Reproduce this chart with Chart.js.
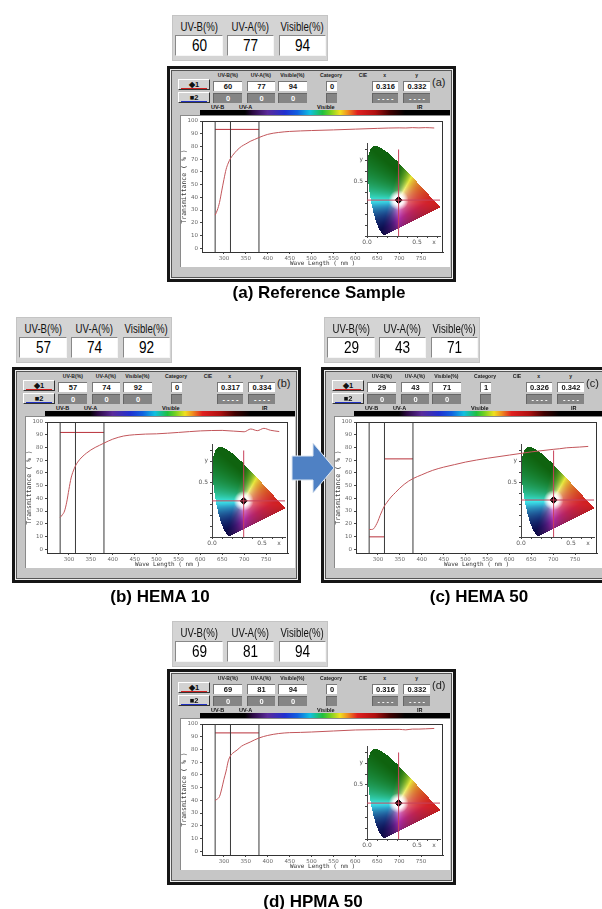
<!DOCTYPE html>
<html>
<head>
<meta charset="utf-8">
<script src="https://cdn.jsdelivr.net/npm/chart.js@4.4.1/dist/chart.umd.min.js"></script>
<style>
  body { margin: 0; background: #fff; }
  #page { position: relative; width: 602px; height: 909px; overflow: hidden; font-family: "Liberation Sans", Arial, sans-serif; }
  .sq { display: inline-block; white-space: nowrap; }
  .hdr { position: absolute; width: 156px; height: 46px; background: #d4d4d4; border: 1px solid #c4c4c4; box-sizing: border-box; }
  .hdr .lab { position: absolute; top: 3px; font-size: 13px; color: #111; text-align: center; }
  .hdr .lab .sq { transform: scaleX(0.74); }
  .hdr .val { position: absolute; top: 19px; height: 21px; background: #fff; box-sizing: border-box;
              border-top: 1px solid #888; border-left: 1px solid #888; border-bottom: 1px solid #f6f6f6; border-right: 1px solid #f6f6f6;
              font-size: 17px; line-height: 19px; text-align: center; color: #000; }
  .hdr .val .sq { transform: scaleX(0.8); }
  .panel { position: absolute; width: 289px; height: 216px; }
  .frame { position: absolute; left: 0; top: 0; width: 289px; height: 216px; background: #c6c6c6; border: 3px solid #151515;
           box-sizing: border-box; box-shadow: inset 0 0 0 1px #eee, inset 0 0 0 2px #555; }
  .colh { position: absolute; top: 5px; font-size: 6px; font-weight: bold; color: #222; text-align: center; line-height: 8px; white-space: nowrap; }
  .colh .sq { transform: scaleX(0.85); }
  .cell { position: absolute; height: 10px; box-sizing: border-box; font-size: 7.5px; font-weight: bold; text-align: center; line-height: 9px; }
  .cell.w { background: #fff; color: #111; border-top: 1px solid #777; border-left: 1px solid #777; }
  .cell.g { background: #858585; color: #fff; border-top: 1px solid #666; border-left: 1px solid #666; }
  .btn { position: absolute; left: 11px; width: 32px; height: 11px; background: #d2d2d2; box-sizing: border-box;
         border-top: 1px solid #fff; border-left: 1px solid #fff; border-bottom: 1px solid #333; border-right: 1px solid #333;
         font-size: 7.5px; font-weight: bold; text-align: center; line-height: 9px; color: #111; }
  .tag { position: absolute; left: 265px; top: 10px; font-size: 11px; color: #222; }
  .spec { position: absolute; top: 38px; font-size: 5.5px; font-weight: bold; color: #111; }
  .bar { position: absolute; left: 33px; top: 44px; width: 250px; height: 5px;
         background: linear-gradient(to right, #000 0%, #000 18%, #2a0840 21%, #5a2a9a 27%, #2030d0 34%, #1060e0 39%, #10c0e0 44%,
                     #20c040 49%, #70d020 52%, #f0e020 56%, #f09020 59%, #e02020 63%, #b01010 70%, #400000 76%, #000 82%, #000 100%); }
  .white { position: absolute; left: 13px; top: 49px; width: 270px; height: 152px; background: #fff; box-shadow: inset 1px 1px 0 #8a8a8a; }
  canvas { position: absolute; }
  .title { position: absolute; font-size: 17px; font-weight: bold; color: #000; white-space: nowrap; transform: translate(-50%, -50%); }
</style>
</head>
<body>
<div id="page">
  <svg style="position:absolute;left:0;top:0;z-index:5" width="602" height="909">
    <polygon points="292,456 313,456 313,443 334,468 313,493 313,480 292,480" fill="#4f81c4" stroke="#dce6f2" stroke-width="1"/>
  </svg>
</div>
<script>
// panel values
const panelTitles = ['(a) Reference Sample', '(b) HEMA 10', '(c) HEMA 50', '(d) HPMA 50'];
const panelTags = ['(a)', '(b)', '(c)', '(d)'];
const uvbValues = [60, 57, 29, 69];
const uvaValues = [77, 74, 43, 81];
const visibleValues = [94, 92, 71, 94];
const categoryValues = [0, 0, 1, 0];
const cieX = [0.316, 0.317, 0.326, 0.316];
const cieY = [0.332, 0.334, 0.342, 0.332];

// transmittance curves (%)
const waveLength = [280, 285, 290, 295, 300, 305, 310, 315, 320, 330, 340, 350, 360, 370, 380,
                    400, 425, 450, 475, 500, 550, 600, 650, 700, 715, 730, 745, 760, 780];
const transA = [26, 30, 36, 45, 54, 62, 67, 70.5, 73, 77, 80, 82, 84, 85.5, 87,
                89.5, 91, 91.8, 92.2, 92.5, 93, 93.6, 94.2, 94.6, 94.5, 94.8, 94.6, 94.8, 94.5];
const transB = [25, 27, 30, 37, 47, 56, 61.5, 65.5, 68.5, 72.5, 75.5, 78, 80, 81.7, 83.4,
                86.5, 89, 90, 90.5, 90.7, 91.8, 93, 93.4, 92.3, 94.5, 93.2, 95, 93.5, 92.5];
const transC = [15.5, 15.5, 16, 18.5, 22, 26.5, 30.5, 34, 36.5, 41, 44.5, 48, 51, 53.5, 55.5,
                58.5, 62, 64.5, 66.5, 68.5, 71.5, 74, 76.5, 78.5, 79, 79.7, 80, 80.3, 80.8];
const transD = [40, 41, 43, 49, 56.5, 63, 71, 75, 77, 79.5, 82.5, 84.3, 85.8, 87.5, 89,
                91, 92.5, 93.2, 93.4, 93.7, 94.5, 95.3, 95.6, 95.8, 95.4, 96, 96, 96.2, 96.5];
const transSeries = [transA, transB, transC, transD];

// average level marks
const levelStart = [[280], [280], [280, 315], [280]];
const levelEnd = [[380], [380], [315, 380], [380]];
const levelValue = [[93.4], [91.8], [9.7, 71], [93]];
const bandEdges = [280, 315, 380];

const xTicks = [300, 350, 400, 450, 500, 550, 600, 650, 700, 750];
const yTicks = [0, 10, 20, 30, 40, 50, 60, 70, 80, 90, 100];

// CIE 1931 spectral locus
const locusX = [0.1741, 0.1733, 0.1714, 0.1644, 0.1566, 0.1440, 0.1241, 0.1096, 0.0913, 0.0687, 0.0454, 0.0235,
                0.0082, 0.0039, 0.0139, 0.0389, 0.0743, 0.1142, 0.1547, 0.1929, 0.2296, 0.2658, 0.3016, 0.3373,
                0.3731, 0.4087, 0.4441, 0.4788, 0.5125, 0.5448, 0.5752, 0.6029, 0.6270, 0.6658, 0.6915, 0.7079,
                0.7190, 0.7260, 0.7334, 0.7347];
const locusY = [0.0050, 0.0048, 0.0051, 0.0109, 0.0177, 0.0297, 0.0578, 0.0868, 0.1327, 0.2007, 0.2950, 0.4127,
                0.5384, 0.6548, 0.7502, 0.8120, 0.8338, 0.8262, 0.8059, 0.7816, 0.7543, 0.7243, 0.6923, 0.6589,
                0.6245, 0.5896, 0.5547, 0.5202, 0.4866, 0.4544, 0.4242, 0.3965, 0.3725, 0.3340, 0.3083, 0.2920,
                0.2809, 0.2740, 0.2666, 0.2653];
const insetXTicks = [0, 0.1, 0.2, 0.3, 0.4, 0.5, 0.6, 0.67, 0.7];
const insetXLabelAt = [0, 0.5, 0.67];
const insetXLabelText = ['0.0', '0.5', 'x'];
const insetYTicks = [0, 0.1, 0.2, 0.3, 0.4, 0.5, 0.6, 0.7, 0.71, 0.8];
const insetYLabelAt = [0.5, 0.71];
const insetYLabelText = ['0.5', 'y'];

// layout
const frameLeft = [167, 12, 321, 167];
const frameTop = [66, 367, 367, 669];
const headerLeft = [172, 16, 324, 172];
const headerTop = [15, 317, 317, 621];
const titleX = [319, 160, 479, 313];
const titleY = [293, 597, 597, 902];

const page = document.getElementById('page');

function el(parent, cls, style, text, squeeze) {
  const d = document.createElement('div');
  if (cls) d.className = cls;
  Object.assign(d.style, style || {});
  if (text !== undefined) {
    if (squeeze) {
      const s = document.createElement('span');
      s.className = 'sq';
      s.textContent = text;
      d.appendChild(s);
    } else {
      d.textContent = text;
    }
  }
  parent.appendChild(d);
  return d;
}

function chromaColor(cx, cy) {
  const X = cx / cy, Z = (1 - cx - cy) / cy;
  let r = Math.max(0, 3.2406 * X - 1.5372 - 0.4986 * Z);
  let g = Math.max(0, -0.9689 * X + 1.8758 + 0.0415 * Z);
  let b = Math.max(0, 0.0557 * X - 0.2040 + 1.0570 * Z);
  const m = Math.max(r, g, b);
  r /= m; g /= m; b /= m;
  const avg = (r + g + b) / 3;
  r = 0.7 * r + 0.3 * avg; g = 0.7 * g + 0.3 * avg; b = 0.7 * b + 0.3 * avg;
  let shade = 1;
  shade *= 1 - 0.75 * Math.max(0, g - Math.max(r, b));
  shade *= 1 - 0.5 * Math.max(0, b - Math.max(r, g));
  shade *= 0.45 + 0.55 * Math.min(1, cy / 0.3);
  const enc = v => Math.round(255 * shade * Math.pow(v, 0.9));
  return [enc(r), enc(g), enc(b)];
}

const cieFill = {
  id: 'cieFill',
  beforeDatasetsDraw(chart) {
    const { ctx, chartArea: a, scales } = chart;
    const pts = chart.getDatasetMeta(0).data;
    const path = new Path2D();
    pts.forEach((p, k) => k ? path.lineTo(p.x, p.y) : path.moveTo(p.x, p.y));
    path.closePath();
    const x0 = Math.floor(a.left) + 1, y0 = Math.floor(a.top);
    const w = Math.ceil(a.right) - x0, h = Math.floor(a.bottom) - y0;
    const img = ctx.createImageData(w, h);
    for (let j = 0; j < h; j++) {
      for (let i = 0; i < w; i++) {
        const px = x0 + i + 0.5, py = y0 + j + 0.5;
        if (!ctx.isPointInPath(path, px, py)) continue;
        const c = chromaColor(scales.x.getValueForPixel(px), scales.y.getValueForPixel(py));
        const o = (j * w + i) * 4;
        img.data[o] = c[0]; img.data[o + 1] = c[1]; img.data[o + 2] = c[2]; img.data[o + 3] = 255;
      }
    }
    const tmp = document.createElement('canvas');
    tmp.width = w; tmp.height = h;
    tmp.getContext('2d').putImageData(img, 0, 0);
    ctx.save();
    ctx.drawImage(tmp, x0, y0);
    const dot = chart.getDatasetMeta(3).data[0];
    const glow = ctx.createRadialGradient(dot.x, dot.y, 0, dot.x, dot.y, 10);
    glow.addColorStop(0, 'rgba(255,255,255,1)');
    glow.addColorStop(0.5, 'rgba(255,255,255,0.9)');
    glow.addColorStop(1, 'rgba(255,255,255,0)');
    ctx.clip(path);
    ctx.fillStyle = glow;
    ctx.fillRect(dot.x - 11, dot.y - 11, 22, 22);
    ctx.restore();
  }
};

const plotBox = {
  id: 'plotBox',
  beforeDatasetsDraw(chart) {
    const { ctx, chartArea: a } = chart;
    ctx.save();
    ctx.strokeStyle = '#333';
    ctx.lineWidth = 1;
    ctx.strokeRect(Math.round(a.left) + 0.5, Math.round(a.top) + 0.5, Math.round(a.width) - 1, Math.round(a.height));
    ctx.restore();
  }
};

const tickFont = { size: 5.5, family: 'DejaVu Sans' };

function mainChart(canvas, i) {
  const datasets = [{
    data: waveLength.map((w, k) => ({ x: w, y: transSeries[i][k] })),
    borderColor: '#c2555a', borderWidth: 1, pointRadius: 0, cubicInterpolationMode: 'monotone'
  }];
  bandEdges.forEach(b => datasets.push({
    data: [{ x: b, y: -3 }, { x: b, y: 100 }], borderColor: '#3a3a3a', borderWidth: 1, pointRadius: 0
  }));
  levelValue[i].forEach((v, k) => datasets.push({
    data: [{ x: levelStart[i][k], y: v }, { x: levelEnd[i][k], y: v }], borderColor: '#b8303a', borderWidth: 1, pointRadius: 0
  }));
  return new Chart(canvas, {
    type: 'line',
    data: { datasets },
    options: {
      responsive: false, animation: false, events: [],
      layout: { padding: { top: 6, right: 7, left: 0, bottom: 0 } },
      plugins: { legend: { display: false }, tooltip: { enabled: false } },
      scales: {
        x: {
          type: 'linear', min: 250, max: 800,
          afterBuildTicks: s => { s.ticks = xTicks.map(v => ({ value: v })); },
          afterFit: s => { s.height = 15; },
          grid: { drawOnChartArea: false, tickLength: 2, color: '#444' },
          border: { color: '#333' },
          ticks: { font: tickFont, color: '#666', padding: 1, maxRotation: 0, autoSkip: false },
          title: { display: true, text: 'Wave Length ( nm )', font: { size: 6, family: 'DejaVu Sans Mono' }, color: '#333', padding: 0 }
        },
        y: {
          min: -3, max: 100,
          afterBuildTicks: s => { s.ticks = yTicks.map(v => ({ value: v })); },
          afterFit: s => { s.width = 22; },
          grid: { drawOnChartArea: false, tickLength: 2, color: '#444' },
          border: { color: '#333' },
          ticks: { font: tickFont, color: '#666', padding: 2, autoSkip: false },
          title: { display: true, text: 'Transmittance ( % )', font: { size: 6.5, family: 'DejaVu Sans Mono' }, color: '#333', padding: 0 }
        }
      }
    },
    plugins: [plotBox]
  });
}

function insetChart(canvas, i) {
  const lineColor = '#c8405a';
  return new Chart(canvas, {
    type: 'scatter',
    data: {
      datasets: [
        { data: locusX.map((x, k) => ({ x, y: locusY[k] })), pointRadius: 0, showLine: false },
        { data: [{ x: cieX[i], y: 0 }, { x: cieX[i], y: 0.8 }], showLine: true, borderColor: lineColor, borderWidth: 1, pointRadius: 0 },
        { data: [{ x: 0, y: cieY[i] }, { x: 0.73, y: cieY[i] }], showLine: true, borderColor: lineColor, borderWidth: 1, pointRadius: 0 },
        { data: [{ x: cieX[i], y: cieY[i] }], pointStyle: 'rectRot', pointRadius: 3.5, backgroundColor: '#000', borderColor: '#000' }
      ]
    },
    options: {
      responsive: false, animation: false, events: [],
      layout: { padding: { top: 7, right: 9, left: 0, bottom: 0 } },
      plugins: { legend: { display: false }, tooltip: { enabled: false } },
      scales: {
        x: {
          type: 'linear', min: 0, max: 0.73,
          afterBuildTicks: s => { s.ticks = insetXTicks.map(v => ({ value: v })); },
          afterFit: s => { s.height = 12; },
          grid: { drawOnChartArea: false, tickLength: 2,
                  tickColor: c => c.tick.value === 0.67 ? 'rgba(0,0,0,0)' : '#444' },
          border: { color: '#444' },
          ticks: { font: { size: 6, family: 'DejaVu Sans' }, color: '#555', padding: 1, maxRotation: 0, autoSkip: false,
                   callback: v => { const k = insetXLabelAt.indexOf(v); return k < 0 ? '' : insetXLabelText[k]; } }
        },
        y: {
          min: 0, max: 0.86,
          afterBuildTicks: s => { s.ticks = insetYTicks.map(v => ({ value: v })); },
          afterFit: s => { s.width = 18; },
          grid: { drawOnChartArea: false, tickLength: 2,
                  tickColor: c => c.tick.value === 0.71 ? 'rgba(0,0,0,0)' : '#444' },
          border: { color: '#444' },
          ticks: { font: { size: 6, family: 'DejaVu Sans' }, color: '#555', padding: 2, autoSkip: false,
                   callback: v => { const k = insetYLabelAt.indexOf(v); return k < 0 ? '' : insetYLabelText[k]; } }
        }
      }
    },
    plugins: [cieFill]
  });
}

const colLeft = [46, 80, 111, 159, 205, 236];
const colWidth = [29, 28, 29, 11, 26, 27];
const colHeads = ['UV-B(%)', 'UV-A(%)', 'Visible(%)', 'Category', 'x', 'y'];

panelTitles.forEach((title, i) => {
  // summary header
  const hdr = el(page, 'hdr', { left: headerLeft[i] + 'px', top: headerTop[i] + 'px' });
  const boxL = [2, 54, 106], boxW = [48, 47, 47];
  ['UV-B(%)', 'UV-A(%)', 'Visible(%)'].forEach((t, k) => {
    el(hdr, 'lab', { left: boxL[k] - 8 + 'px', width: boxW[k] + 16 + 'px' }, t, true);
  });
  [uvbValues[i], uvaValues[i], visibleValues[i]].forEach((v, k) => {
    el(hdr, 'val', { left: boxL[k] + 'px', width: boxW[k] + 'px' }, String(v), true);
  });

  // instrument panel
  const p = el(page, 'panel', { left: frameLeft[i] + 'px', top: frameTop[i] + 'px' });
  el(p, 'frame');
  colHeads.forEach((t, k) => {
    el(p, 'colh', { left: colLeft[k] - 8 + 'px', width: colWidth[k] + 16 + 'px' }, t, true);
  });
  el(p, 'colh', { left: '188px', width: '16px' }, 'CIE', true);
  const b1 = el(p, 'btn', { top: '13px' }, '◆1');
  el(b1, null, { position: 'absolute', left: '2px', right: '2px', bottom: '0px', height: '1px', background: '#d02020' });
  const b2 = el(p, 'btn', { top: '26px' }, '■2');
  el(b2, null, { position: 'absolute', left: '2px', right: '2px', bottom: '0px', height: '1px', background: '#2030c0' });
  const row1 = [uvbValues[i], uvaValues[i], visibleValues[i], categoryValues[i], cieX[i].toFixed(3), cieY[i].toFixed(3)];
  const row2 = ['0', '0', '0', '', '- - - -', '- - - -'];
  colLeft.forEach((l, k) => {
    el(p, 'cell w', { left: l + 'px', top: '15px', width: colWidth[k] + 'px' }, String(row1[k]));
    el(p, 'cell g', { left: l + 'px', top: '27px', width: colWidth[k] + 'px' }, row2[k]);
  });
  el(p, 'tag', {}, panelTags[i]);
  [['UV-B', 44], ['UV-A', 72], ['Visible', 150], ['IR', 250]].forEach(([t, x]) => {
    el(p, 'spec', { left: x + 'px' }, t);
  });
  el(p, 'bar');
  el(p, 'white');

  const ci = document.createElement('canvas');
  ci.width = 100; ci.height = 112;
  Object.assign(ci.style, { left: '182px', top: '70px' });
  p.appendChild(ci);
  insetChart(ci, i);

  const cm = document.createElement('canvas');
  cm.width = 270; cm.height = 152;
  Object.assign(cm.style, { left: '13px', top: '49px' });
  p.appendChild(cm);
  mainChart(cm, i);

  el(page, 'title', { left: titleX[i] + 'px', top: titleY[i] + 'px' }, title);
});
</script>
</body>
</html>
